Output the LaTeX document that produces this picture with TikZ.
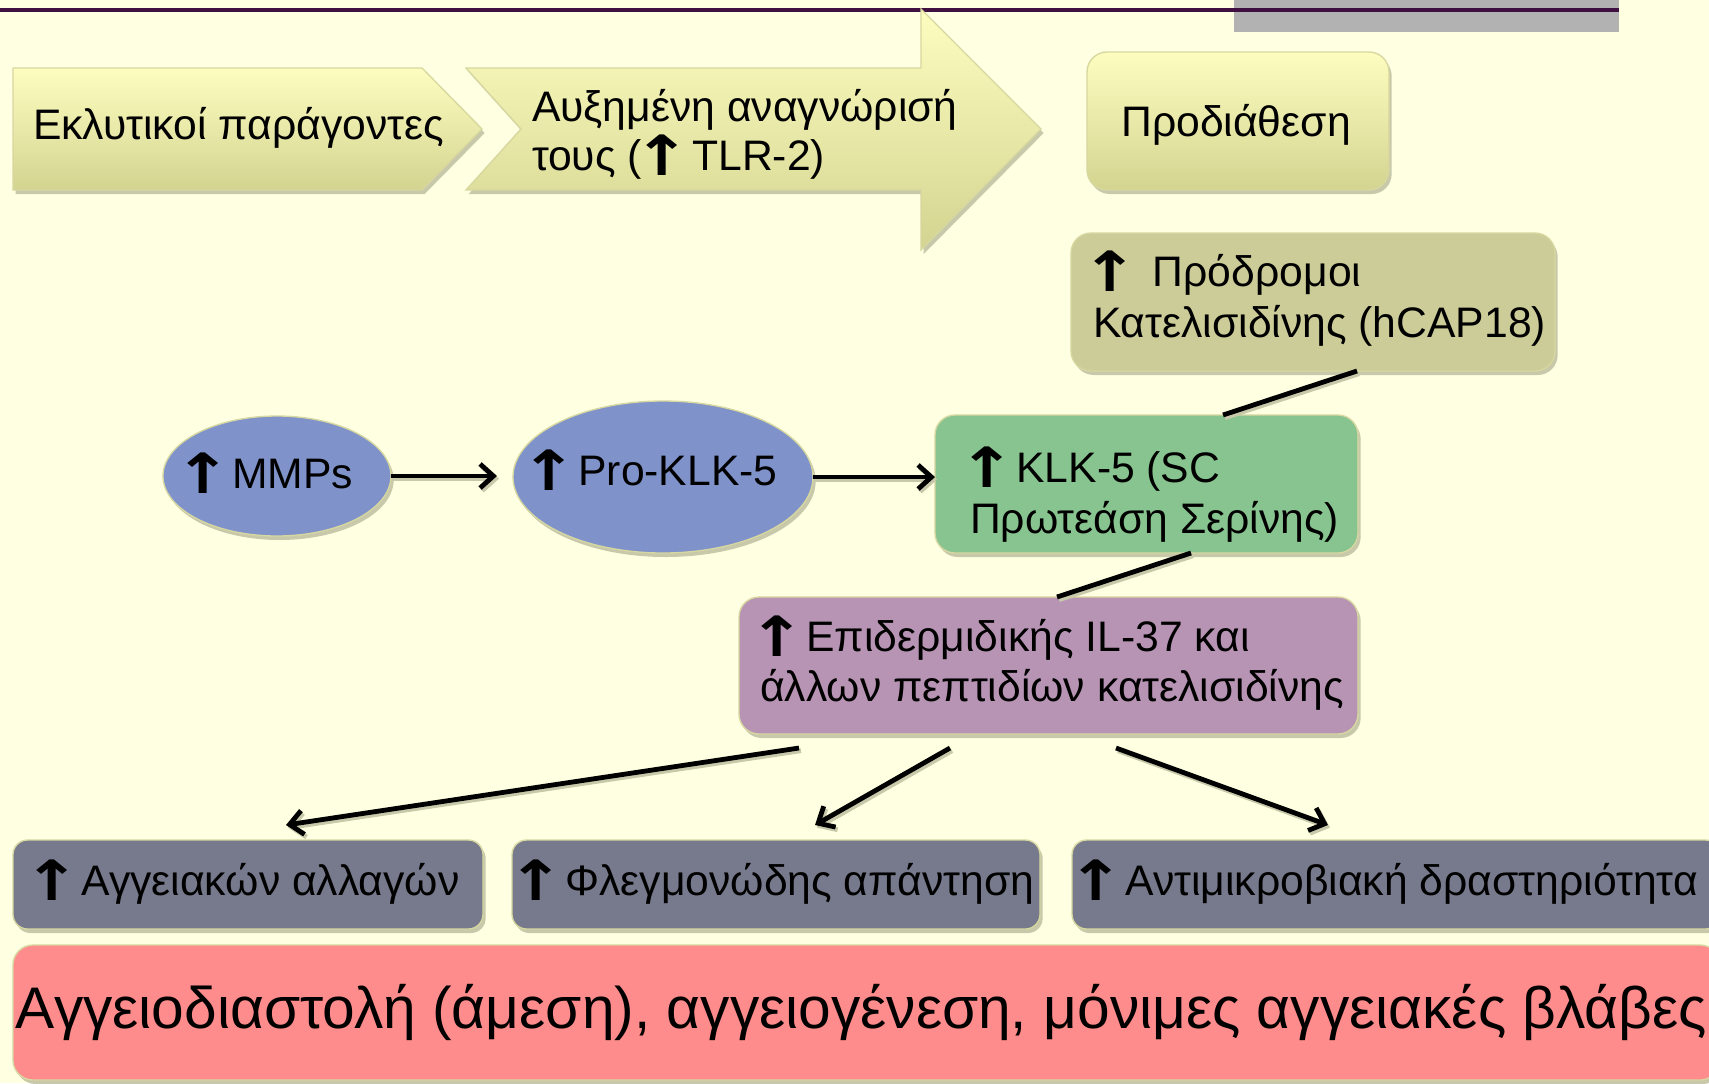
\documentclass[tikz,border=0pt]{standalone}
\usepackage{graphicx}
\usepackage{fontspec}
\setmainfont{Liberation Sans}
\newfontfamily\arrfont{DejaVu Sans}
\usetikzlibrary{arrows.meta,shadows,calc,shapes.geometric}
\definecolor{bgcol}{RGB}{255,255,225}
\definecolor{topline}{RGB}{64,16,64}
\definecolor{graybar}{RGB}{178,178,178}
\definecolor{gradtop}{RGB}{253,253,192}
\definecolor{gradbot}{RGB}{212,212,145}
\definecolor{edgecol}{RGB}{215,215,160}
\definecolor{prodcol}{RGB}{204,204,153}
\definecolor{klkcol}{RGB}{136,196,144}
\definecolor{ilcol}{RGB}{184,148,180}
\definecolor{ellcol}{RGB}{127,147,202}
\definecolor{boxgray}{RGB}{119,122,140}
\definecolor{redcol}{RGB}{255,140,140}
\definecolor{shadcol}{RGB}{200,200,170}
\newcommand{\uarr}{\hspace{-9pt}\raisebox{-4pt}{\scalebox{1.6}[1.3]{\arrfont\bfseries ↑}}\hspace{-8pt}}
\begin{document}
\begin{tikzpicture}[x=0.75pt,y=-0.75pt,
  shad/.style={drop shadow={shadow xshift=2pt,shadow yshift=-3pt,fill=shadcol,opacity=1}},
  rbox/.style={rectangle,rounded corners=15pt,inner sep=0pt,outer sep=0pt,draw=edgecol,line width=1pt,shad},
  gbox/.style={rectangle,rounded corners=11pt,inner sep=0pt,outer sep=0pt,draw=edgecol,line width=1pt,shad,fill=boxgray},
  ell/.style={ellipse,inner sep=0pt,outer sep=0pt,draw=edgecol,line width=1pt,shad,fill=ellcol},
  txt/.style={inner sep=0pt,outer sep=0pt,font=\fontsize{32}{38}\selectfont},
  lnk/.style={line width=3.6pt,black},
  lnkarr/.style={lnk,-{Straight Barb[length=10pt,width=18pt]}},
  lnkshad/.style={line width=3.6pt,shadcol,transform canvas={xshift=1.5pt,yshift=-2pt}},
  lnkshadarr/.style={lnkshad,-{Straight Barb[length=10pt,width=18pt]}}
]
\useasboundingbox (0,0) rectangle (1709,1083);
\fill[bgcol] (0,0) rectangle (1709,1083);
\fill[graybar] (1234,0) rectangle (1619,32);
\draw[topline,line width=3pt] (0,9.5) -- (1619,9.5);

% top flow shapes
\shade[top color=gradtop,bottom color=gradbot,draw=edgecol,line width=1pt,shad]
  (13,68) -- (422,68) -- (482,129) -- (422,190) -- (13,190) -- cycle;
\shade[top color=gradtop,bottom color=gradbot,draw=edgecol,line width=1pt,shad]
  (466,68) -- (921,68) -- (921,9) -- (1041,129) -- (921,250) -- (921,190) -- (466,190) -- (521,129) -- cycle;
\node[txt,anchor=base west] (tekl) at (33,139) {Εκλυτικοί παράγοντες};
\node[txt,anchor=base west] (taux1) at (532,121) {Αυξημένη αναγνώρισή};
\node[txt,anchor=base west] (taux2) at (532,170) {τους (\hspace{3pt}\uarr\ TLR-2)};

\node[rbox,top color=gradtop,bottom color=gradbot,minimum width=226.5pt,minimum height=103.5pt] (pred) at (1238,121) {};
\node[txt,anchor=base] (tpred) at (1236,136) {Προδιάθεση};

% middle
\node[rbox,fill=prodcol,minimum width=363pt,minimum height=103.5pt] (prd) at (1313,302) {};
\node[txt,anchor=base west] (tprd1) at (1093,286) {\uarr\hspace{19pt}Πρόδρομοι};
\node[txt,anchor=base west] (tprd2) at (1093,337) {Κατελισιδίνης (hCAP18)};

\node[rbox,fill=klkcol,minimum width=317.25pt,minimum height=103.5pt] (klk) at (1146.5,484) {};
\node[txt,anchor=base west] (tklk1) at (970,482) {\uarr\ KLK-5 (SC};
\node[txt,anchor=base west] (tklk2) at (970,533) {Πρωτεάση Σερίνης)};

\node[rbox,fill=ilcol,minimum width=464.25pt,minimum height=102.75pt] (il) at (1048.5,665.5) {};
\node[txt,anchor=base west] (til1) at (760,651) {\uarr\ Επιδερμιδικής IL-37 και};
\node[txt,anchor=base west] (til2) at (760,701) {άλλων πεπτιδίων κατελισιδίνης};

\node[ell,minimum width=171pt,minimum height=90pt] (mmp) at (277,476) {};
\node[txt,anchor=base west] (tmmp) at (186,488) {\uarr\ MMPs};
\node[ell,minimum width=225pt,minimum height=114pt] (pro) at (663,477) {};
\node[txt,anchor=base west] (tpro) at (532,485) {\uarr\ Pro-KLK-5};

% bottom boxes
\node[gbox,minimum width=352.5pt,minimum height=66.75pt] (g1) at (248,884.5) {};
\node[gbox,minimum width=396pt,minimum height=66.75pt] (g2) at (776,884.5) {};
\node[gbox,minimum width=486pt,minimum height=66.75pt] (g3) at (1396,884.5) {};
\node[txt,anchor=base west] (tg1) at (35,895) {\uarr\ Αγγειακών αλλαγών};
\node[txt,anchor=base west] (tg2) at (519,895) {\uarr\ Φλεγμονώδης απάντηση};
\node[txt,anchor=base west] (tg3) at (1079,895) {\uarr\ Αντιμικροβιακή δραστηριότητα};

\node[rbox,fill=redcol,minimum width=1280.25pt,minimum height=101.25pt] (red) at (866.5,1012.5) {};
\node[txt,anchor=base west,font=\fontsize{44}{52}\selectfont] (tred) at (16,1028) {Αγγειοδιαστολή (άμεση), αγγειογένεση, μόνιμες αγγειακές βλάβες};

% connectors: shadows
\draw[lnkshadarr,shorten >=12pt] (mmp.east) -- (mmp.east -| pro.west);
\draw[lnkshadarr] (pro.east) -- (pro.east -| klk.west);
\draw[lnkshad] ($(prd.south)+(44,0)$) -- ($(klk.north)+(76.5,0)$);
\draw[lnkshad] ($(klk.south)+(44.5,0)$) -- ($(il.north)+(8.5,0)$);
\draw[lnkshadarr] ($(il.south)+(-249.5,14)$) -- ($(g1.north)+(38,-15)$);
\draw[lnkshadarr] ($(il.south)+(-98.5,14)$) -- ($(g2.north)+(39,-15)$);
\draw[lnkshadarr] ($(il.south)+(67.5,14)$) -- ($(g3.north)+(-68,-15)$);
% connectors
\draw[lnkarr,shorten >=12pt] (mmp.east) -- (mmp.east -| pro.west);
\draw[lnkarr] (pro.east) -- (pro.east -| klk.west);
\draw[lnk] ($(prd.south)+(44,0)$) -- ($(klk.north)+(76.5,0)$);
\draw[lnk] ($(klk.south)+(44.5,0)$) -- ($(il.north)+(8.5,0)$);
\draw[lnkarr] ($(il.south)+(-249.5,14)$) -- ($(g1.north)+(38,-15)$);
\draw[lnkarr] ($(il.south)+(-98.5,14)$) -- ($(g2.north)+(39,-15)$);
\draw[lnkarr] ($(il.south)+(67.5,14)$) -- ($(g3.north)+(-68,-15)$);
\end{tikzpicture}
\end{document}
